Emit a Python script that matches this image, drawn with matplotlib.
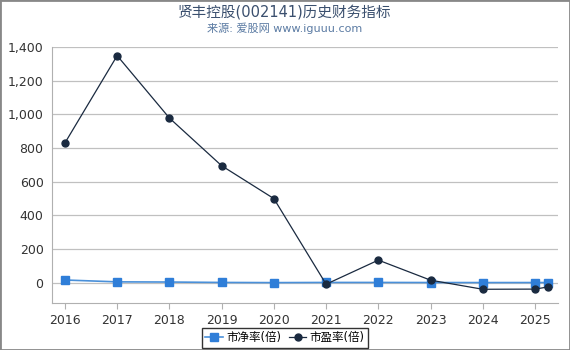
import numpy as np
import matplotlib.pyplot as plt

plt.rcParams['font.family'] = ['DejaVu Sans', 'Noto Sans CJK SC']

years = [2016, 2017, 2018, 2019, 2020, 2021, 2022, 2023, 2024, 2025, 2025.25]
year_ticks = [2016, 2017, 2018, 2019, 2020, 2021, 2022, 2023, 2024, 2025]
pb = [17, 6, 5, 2.5, 1.5, 2.5, 2.5, 2, 1.8, 1.9, 1.9]
pe = [830, 1348, 978, 695, 500, -8, 135, 16, -38, -37, -24]

fig = plt.figure(figsize=(5.7, 3.5), dpi=100)
ax = fig.add_axes([0.091, 0.134, 0.888, 0.732])

ax.plot(years, pb, color='#4a90d9', marker='s', markersize=5.5, lw=1.2,
        markerfacecolor='#2f7ed8', markeredgecolor='#2f7ed8', label='市净率(倍)', zorder=3)
ax.plot(years, pe, color='#1a2a40', marker='o', markersize=5, lw=0.9,
        label='市盈率(倍)', zorder=4)

ax.set_xlim(2015.75, 2025.44)
ax.set_ylim(-120, 1400)
ax.set_yticks(np.arange(0, 1401, 200))
ax.yaxis.set_major_formatter(plt.FuncFormatter(lambda v, p: f'{int(v):,}'))
ax.set_xticks(year_ticks)
ax.grid(axis='y', color='#c0c0c0', lw=0.9)
ax.set_axisbelow(True)
for s in ['top', 'right']:
    ax.spines[s].set_visible(False)
ax.spines['left'].set_color('#b0b0b0')
ax.spines['bottom'].set_color('#b0b0b0')
ax.tick_params(colors='#333333', labelsize=9)
ax.tick_params(axis='y', length=0, pad=6)
ax.tick_params(axis='x', color='#b0b0b0', length=4)

fig.text(0.5, 0.965, '贤丰控股(002141)历史财务指标', ha='center', va='center',
         fontsize=10.5, color='#3a4f6e')
fig.text(0.5, 0.918, '来源: 爱股网 www.iguuu.com', ha='center', va='center',
         fontsize=8, color='#5b7ba3')

leg = fig.legend(loc='center', bbox_to_anchor=(0.5, 0.035), ncol=2, fontsize=8.3,
                 frameon=True, fancybox=False, edgecolor='black', borderpad=0.3,
                 handlelength=1.5, handletextpad=0.3, columnspacing=0.7)
leg.get_frame().set_linewidth(1.0)

fig.patches.append(plt.Rectangle((0, 0), 1, 1, transform=fig.transFigure,
                                 fill=False, edgecolor='#888888', lw=2))
fig.savefig('out.png')
